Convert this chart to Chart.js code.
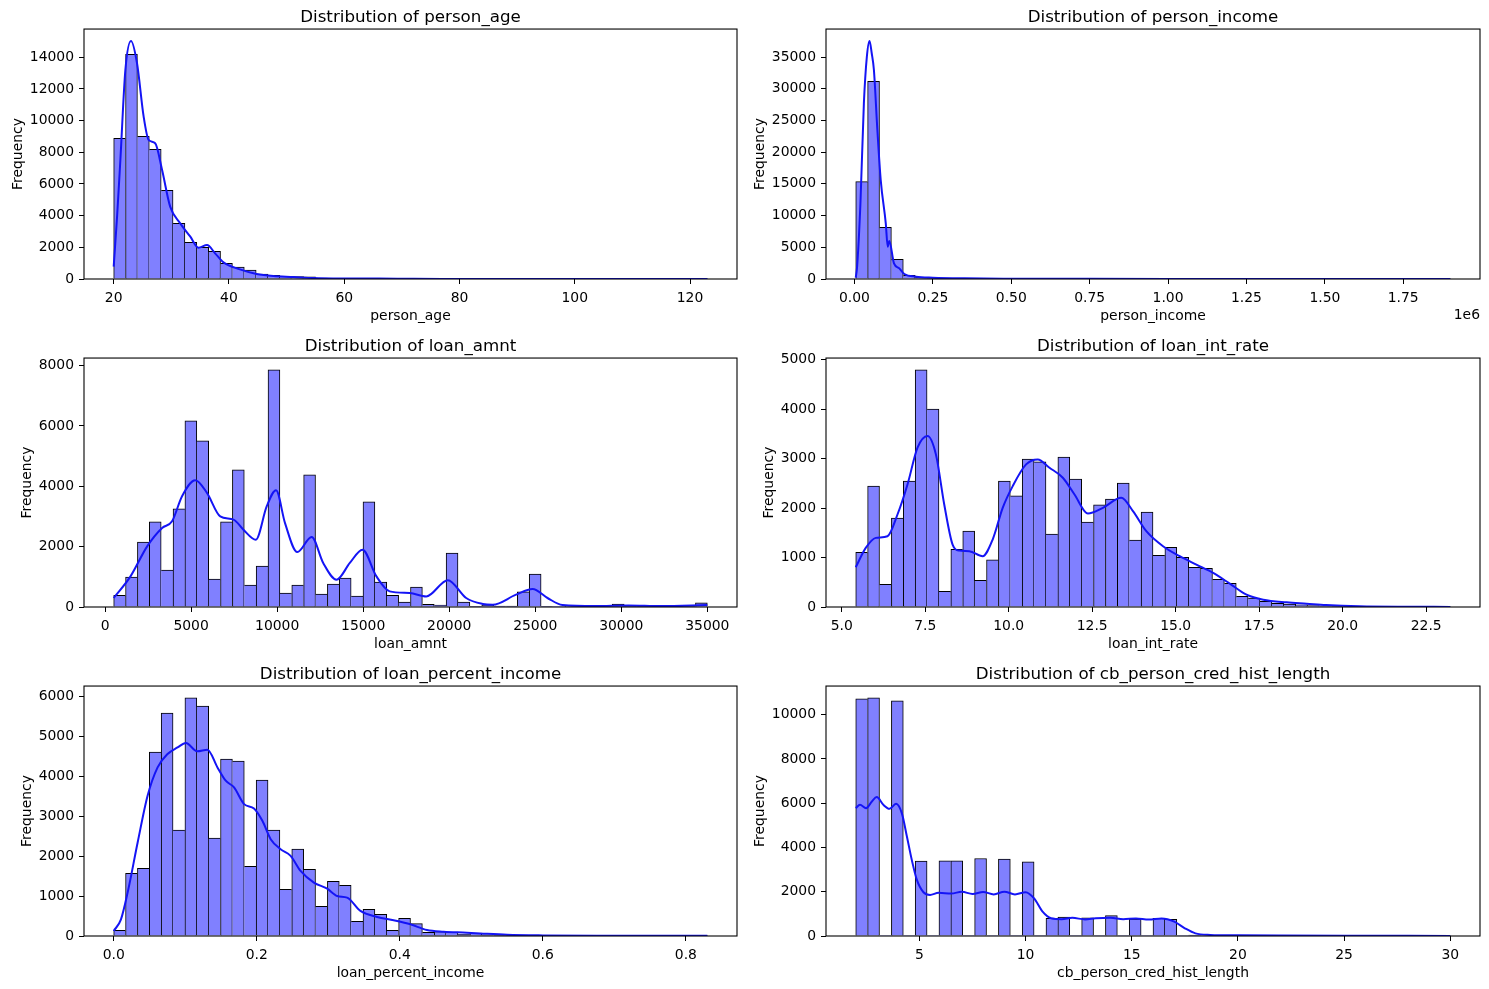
<!DOCTYPE html>
<html>
<head>
  <meta charset="UTF-8">
  <title>Feature Distributions</title>
  <script src="https://cdn.jsdelivr.net/npm/chart.js"></script>
  <style>
    body {
      margin: 0;
      background: #fff;
      width: 1489px;
      height: 989px;
      position: relative;
      overflow: hidden;
    }
    canvas {
      position: absolute;
    }
  </style>
</head>
<body>
  <canvas id="ageChart"></canvas>
  <canvas id="incomeChart"></canvas>
  <canvas id="amountChart"></canvas>
  <canvas id="rateChart"></canvas>
  <canvas id="percentChart"></canvas>
  <canvas id="histChart"></canvas>

  <script>
    // person_age: 50 bins between data min and max
    const ageRange = [20, 123];
    const ageBins = [8885, 14188, 9010, 8190, 5600, 3517, 2317, 2000, 1750, 990,
      760, 570, 316, 232, 170, 150, 130, 60, 40, 30,
      20, 15, 12, 8, 6, 5, 4, 3, 2, 2,
      1, 1, 1, 1, 0, 0, 0, 0, 0, 1,
      0, 0, 0, 0, 0, 0, 0, 0, 0, 1];
    const ageKdeX = [20, 20.6, 21.16, 22.03, 23.0, 24.05, 25.2, 26.06, 27.2, 28.4, 29.8, 31.55, 33.3, 34.7, 36.2,
      37.6, 39.05, 41.9, 44.8, 47.7, 51.2, 54.6, 60, 66, 72, 80, 90, 100, 110, 123];
    const ageKdeY = [780, 4000, 7515, 13200, 15030, 13620, 10250, 8780, 8570, 6880, 4570, 3515, 2670, 1980, 2150,
      1620, 1050, 610, 320, 190, 130, 60, 30, 25, 10, 5, 3, 2, 1, 1];
    const ageXTicks = [20, 40, 60, 80, 100, 120];
    const ageYTicks = [0, 2000, 4000, 6000, 8000, 10000, 12000, 14000];

    // person_income
    const incomeRange = [4000, 1900000];
    const incomeBins = [15350, 31180, 8150, 3100, 560, 250, 120, 60, 40, 30,
      20, 15, 10, 8, 6, 5, 4, 3, 2, 2,
      1, 1, 1, 1, 1, 0, 1, 0, 0, 0,
      0, 0, 0, 1, 0, 0, 0, 0, 0, 0,
      0, 0, 0, 0, 0, 0, 0, 0, 0, 1];
    const incomeKdeX = [4000, 8400, 19000, 30000, 39500, 48000, 55000, 62000, 73000, 83700, 99800, 106000, 111000,
      126000, 143000, 159000, 196000, 250000, 350000, 500000, 750000, 1000000, 1300000, 1600000, 1900000];
    const incomeKdeY = [200, 1940, 11940, 27700, 35060, 37540, 35600, 32960, 23500, 15600, 8780, 5100, 5990,
      2470, 1680, 790, 370, 210, 100, 50, 25, 15, 10, 8, 5];
    const incomeXTicks = [0, 250000, 500000, 750000, 1000000, 1250000, 1500000, 1750000];
    const incomeYTicks = [0, 5000, 10000, 15000, 20000, 25000, 30000, 35000];

    // loan_amnt
    const amountRange = [500, 35000];
    const amountBins = [385, 995, 2155, 2818, 1227, 3249, 6166, 5503, 928, 2818,
      4541, 729, 1359, 7856, 464, 729, 4376, 431, 762, 961,
      365, 3481, 829, 385, 166, 663, 90, 60, 1790, 166,
      20, 60, 30, 30, 500, 1094, 20, 10, 10, 40,
      10, 5, 100, 5, 5, 5, 5, 5, 5, 140];
    const amountKdeX = [500, 1477, 2445, 3314, 3893, 4473, 5243, 5920, 6692, 7463, 8042, 8760, 9397, 9936, 10458,
      11171, 12004, 12677, 13453, 14224, 14959, 15770, 16541, 17700, 18667, 19919, 20985, 21950, 22526, 23882,
      24844, 25713, 26582, 28500, 30400, 32300, 35000];
    const amountKdeY = [298, 1015, 2010, 2620, 2840, 3670, 4200, 3780, 3000, 2895, 2560, 2230, 3340, 3870, 2780,
      1820, 2320, 1460, 905, 1460, 1900, 1015, 518, 464, 352, 890, 298, 100, 76, 408,
      597, 298, 66, 30, 50, 30, 70];
    const amountXTicks = [0, 5000, 10000, 15000, 20000, 25000, 30000, 35000];
    const amountYTicks = [0, 2000, 4000, 6000, 8000];

    // loan_int_rate
    const rateRange = [5.42, 23.22];
    const rateBins = [1107, 2443, 459, 1795, 2544, 4791, 4001, 317, 1167, 1532,
      540, 951, 2544, 2247, 2989, 2935, 1471, 3030, 2584, 1714,
      2065, 2180, 2504, 1350, 1917, 1046, 1208, 1006, 804, 783,
      561, 480, 216, 182, 115, 75, 60, 45, 30, 25,
      18, 12, 8, 5, 4, 3, 2, 1, 1, 1];
    const rateKdeX = [5.42, 5.72, 6.02, 6.37, 6.67, 6.97, 7.27, 7.57, 7.82, 8.07, 8.32, 8.52, 8.82, 9.22, 9.52,
      9.82, 10.12, 10.52, 10.87, 11.22, 11.62, 11.97, 12.37, 12.82, 13.37, 13.72, 14.12, 14.62, 15.12, 15.62,
      16.12, 16.62, 17.12, 17.62, 18.32, 18.92, 19.5, 20.5, 22, 23.22];
    const rateKdeY = [803, 1194, 1397, 1430, 1869, 2476, 3219, 3455, 3084, 2071, 1262, 1140, 1127, 1026, 1363,
      2004, 2443, 2881, 2982, 2814, 2611, 2273, 1889, 2004, 2206, 1937, 1532, 1228, 1026, 856,
      688, 472, 250, 148, 94, 67, 40, 15, 5, 2];
    const rateXTicks = [5, 7.5, 10, 12.5, 15, 17.5, 20, 22.5];
    const rateYTicks = [0, 1000, 2000, 3000, 4000, 5000];

    // loan_percent_income
    const percentRange = [0, 0.83];
    const percentBins = [142, 1573, 1699, 4611, 5590, 2653, 5967, 5766, 2452, 4435,
      4385, 1749, 3908, 2653, 1171, 2176, 1674, 745, 1373, 1272,
      368, 669, 544, 142, 443, 310, 92, 109, 92, 40,
      75, 30, 20, 15, 10, 8, 6, 5, 4, 3,
      2, 2, 1, 1, 1, 1, 0, 0, 0, 1];
    const percentKdeX = [0, 0.0102, 0.0195, 0.0335, 0.0474, 0.0614, 0.0753, 0.0893, 0.1009, 0.1172, 0.1311,
      0.1451, 0.1567, 0.1683, 0.1823, 0.1962, 0.2079, 0.2195, 0.2334, 0.2474, 0.2613, 0.2799, 0.2985,
      0.3125, 0.3264, 0.345, 0.3683, 0.3915, 0.4148, 0.438, 0.4613, 0.4938, 0.517, 0.55, 0.6, 0.7, 0.83];
    const percentKdeY = [126, 418, 1088, 2343, 3515, 4226, 4561, 4728, 4837, 4628, 4670,
      4226, 3892, 3724, 3306, 3197, 2887, 2427, 2176, 2009, 1632, 1339, 1188,
      1004, 962, 628, 477, 393, 293, 151, 109, 84, 59, 30, 15, 8, 5];
    const percentXTicks = [0, 0.2, 0.4, 0.6, 0.8];
    const percentYTicks = [0, 1000, 2000, 3000, 4000, 5000, 6000];

    // cb_person_cred_hist_length (integer years, so many bins are empty)
    const histRange = [2, 30];
    const histBins = [10710, 10755, 0, 10620, 0, 3380, 0, 3400, 3400, 0,
      3500, 0, 3480, 0, 3350, 0, 800, 860, 0, 820,
      0, 920, 0, 760, 0, 800, 750, 0, 40, 0,
      30, 0, 20, 15, 0, 10, 0, 10, 0, 8,
      0, 6, 5, 0, 4, 0, 3, 0, 2, 2];
    const histKdeX = [2, 2.2, 2.49, 2.76, 2.99, 3.3, 3.59, 3.9, 4.17, 4.41, 4.64, 4.88, 5.19, 5.5, 5.9,
      6.5, 7.0, 7.5, 8.0, 8.5, 9.0, 9.5, 10.0, 10.4, 10.8, 11.2, 11.7, 12.2, 12.8, 13.3,
      14.0, 14.6, 15.2, 15.8, 16.4, 17.0, 17.5, 18.0, 18.7, 20, 22, 25, 28, 30];
    const histKdeY = [5777, 5927, 5777, 6078, 6275, 5927, 5747, 5973, 5550, 4495, 3440, 2534, 1976, 1855, 1950,
      1920, 2000, 1900, 1990, 1880, 2000, 1880, 1980, 1700, 1100, 800, 760, 820, 750, 800,
      820, 760, 790, 740, 790, 650, 350, 120, 50, 30, 20, 12, 8, 5];
    const histXTicks = [5, 10, 15, 20, 25, 30];
    const histYTicks = [0, 2000, 4000, 6000, 8000, 10000];

    Chart.defaults.font.family = "'DejaVu Sans', sans-serif";
    Chart.defaults.font.size = 13.9;
    Chart.defaults.color = '#000';

    const barFill = '#8080ff';
    const kdeColor = 'rgb(20, 20, 245)';

    // axes frame on all four sides, drawn over the bars like matplotlib spines
    const framePlugin = {
      id: 'frame',
      afterDraw(chart) {
        const { ctx, chartArea: a } = chart;
        ctx.save();
        ctx.strokeStyle = '#000';
        ctx.lineWidth = 1.1;
        ctx.strokeRect(a.left, a.top, a.right - a.left, a.bottom - a.top);
        ctx.restore();
      }
    };

    // scale offset text under the income axis
    const offsetTextPlugin = {
      id: 'offsetText',
      afterDraw(chart) {
        const { ctx, chartArea: a } = chart;
        ctx.save();
        ctx.font = "13.9px 'DejaVu Sans', sans-serif";
        ctx.fillStyle = '#000';
        ctx.textAlign = 'right';
        ctx.textBaseline = 'alphabetic';
        ctx.fillText('1e6', a.right, a.bottom + 40);
        ctx.restore();
      }
    };

    // one shared edge line between neighbouring bars, owned by the taller one
    function barEdges(bins, i) {
      const v = bins[i];
      const prev = i > 0 ? bins[i - 1] : 0;
      const next = i < bins.length - 1 ? bins[i + 1] : 0;
      return { top: 1, bottom: 0, left: prev <= v ? 1 : 0, right: next < v ? 1 : 0 };
    }

    function drawPanel(p) {
      const [lo, hi] = p.range;
      const step = (hi - lo) / p.bins.length;
      const bars = p.bins.map((v, i) => ({ x: lo + (i + 0.5) * step, y: v }));
      const kde = p.kdeX.map((x, i) => ({ x: x, y: p.kdeY[i] }));
      const margin = 0.05 * (hi - lo);
      const yTop = 1.05 * Math.max(...p.bins, ...p.kdeY);

      const canvas = document.getElementById(p.id);
      canvas.width = p.box[2];
      canvas.height = p.box[3];
      canvas.style.left = p.box[0] + 'px';
      canvas.style.top = p.box[1] + 'px';

      const tickGrid = { drawOnChartArea: false, drawTicks: true, tickLength: 5, color: '#000', lineWidth: 1, offset: false };

      new Chart(canvas, {
        type: 'bar',
        data: {
          datasets: [
            {
              type: 'line',
              data: kde,
              borderColor: kdeColor,
              borderWidth: 2,
              pointRadius: 0,
              cubicInterpolationMode: 'monotone',
              fill: false,
              order: 1
            },
            {
              type: 'bar',
              data: bars,
              backgroundColor: barFill,
              borderColor: '#000',
              borderSkipped: false,
              borderWidth: ctx => barEdges(p.bins, ctx.dataIndex),
              barPercentage: 1,
              categoryPercentage: 1,
              order: 2
            }
          ]
        },
        options: {
          responsive: false,
          devicePixelRatio: 1,
          animation: false,
          layout: { padding: { top: 0, left: 0, bottom: 0, right: p.padRight } },
          plugins: {
            legend: { display: false },
            tooltip: { enabled: false },
            title: {
              display: true,
              text: p.title,
              fullSize: false,
              color: '#000',
              font: { size: 16.7, weight: 'normal' },
              padding: { top: 7, bottom: 1 }
            }
          },
          scales: {
            x: {
              type: 'linear',
              offset: false,
              min: lo - margin,
              max: hi + margin,
              grid: tickGrid,
              border: { display: false },
              ticks: { padding: 6, maxRotation: 0, autoSkip: false, callback: p.fmt },
              afterBuildTicks: s => { s.ticks = p.xTicks.map(v => ({ value: v })); },
              afterFit: s => { s.height = 46; },
              title: { display: true, text: p.xLabel, color: '#000', padding: 0 }
            },
            y: {
              min: 0,
              max: yTop,
              grid: tickGrid,
              border: { display: false },
              ticks: { padding: 5, callback: v => String(v) },
              afterBuildTicks: s => { s.ticks = p.yTicks.map(v => ({ value: v })); },
              afterFit: s => { s.width = p.yW; },
              title: { display: true, text: 'Frequency', color: '#000', padding: { top: p.yTitlePad, bottom: 0 } }
            }
          }
        },
        plugins: p.extra ? [framePlugin, p.extra] : [framePlugin]
      });
    }

    const intFmt = v => String(v);

    drawPanel({ id: 'ageChart', title: 'Distribution of person_age', xLabel: 'person_age',
      range: ageRange, bins: ageBins, kdeX: ageKdeX, kdeY: ageKdeY, xTicks: ageXTicks, yTicks: ageYTicks,
      fmt: intFmt, box: [0, 1, 745, 324], yW: 84, padRight: 8, yTitlePad: 10 });

    drawPanel({ id: 'incomeChart', title: 'Distribution of person_income', xLabel: 'person_income',
      range: incomeRange, bins: incomeBins, kdeX: incomeKdeX, kdeY: incomeKdeY, xTicks: incomeXTicks, yTicks: incomeYTicks,
      fmt: v => (v / 1e6).toFixed(2), box: [745, 1, 744, 324], yW: 81, padRight: 9, yTitlePad: 7.2,
      extra: offsetTextPlugin });

    drawPanel({ id: 'amountChart', title: 'Distribution of loan_amnt', xLabel: 'loan_amnt',
      range: amountRange, bins: amountBins, kdeX: amountKdeX, kdeY: amountKdeY, xTicks: amountXTicks, yTicks: amountYTicks,
      fmt: intFmt, box: [0, 330, 745, 323], yW: 84, padRight: 8, yTitlePad: 18.9 });

    drawPanel({ id: 'rateChart', title: 'Distribution of loan_int_rate', xLabel: 'loan_int_rate',
      range: rateRange, bins: rateBins, kdeX: rateKdeX, kdeY: rateKdeY, xTicks: rateXTicks, yTicks: rateYTicks,
      fmt: v => v.toFixed(1), box: [745, 330, 744, 323], yW: 81, padRight: 9, yTitlePad: 16 });

    drawPanel({ id: 'percentChart', title: 'Distribution of loan_percent_income', xLabel: 'loan_percent_income',
      range: percentRange, bins: percentBins, kdeX: percentKdeX, kdeY: percentKdeY, xTicks: percentXTicks, yTicks: percentYTicks,
      fmt: v => v.toFixed(1), box: [0, 658, 745, 324], yW: 84, padRight: 8, yTitlePad: 18.9 });

    drawPanel({ id: 'histChart', title: 'Distribution of cb_person_cred_hist_length', xLabel: 'cb_person_cred_hist_length',
      range: histRange, bins: histBins, kdeX: histKdeX, kdeY: histKdeY, xTicks: histXTicks, yTicks: histYTicks,
      fmt: intFmt, box: [745, 658, 744, 324], yW: 81, padRight: 9, yTitlePad: 7.2 });
  </script>
</body>
</html>
